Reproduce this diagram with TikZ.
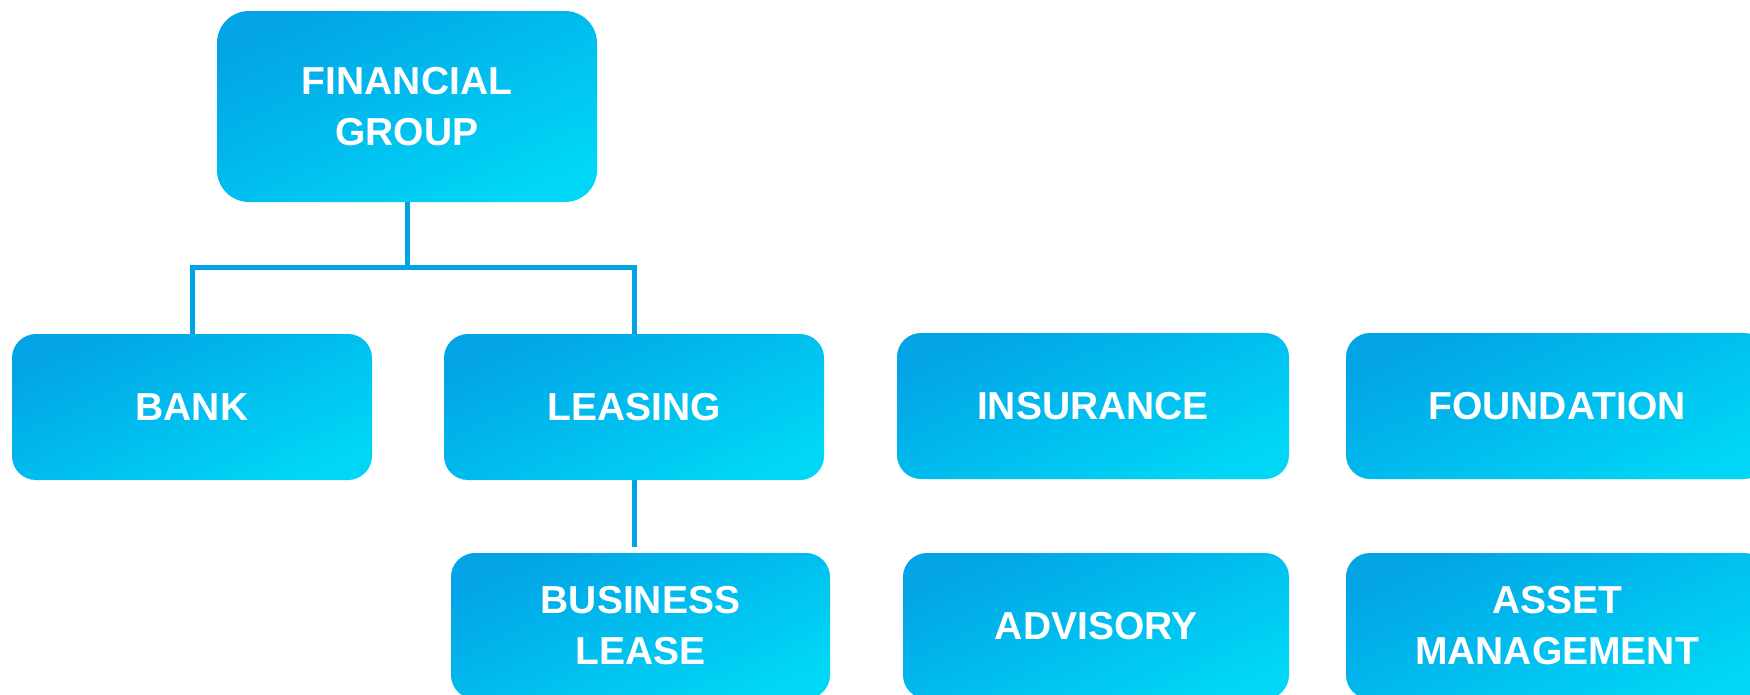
\documentclass[tikz,border=0pt]{standalone}
\usepackage{fontspec}
\setmainfont{Liberation Sans}

\definecolor{boxdark}{HTML}{02A4E6}
\definecolor{boxlight}{HTML}{00D6F6}
\definecolor{linkblue}{HTML}{00A3E3}

\begin{document}
\begin{tikzpicture}[x=1pt, y=-1pt,
    main/.style = {rounded corners=24pt, top color=boxdark, bottom color=boxlight, shading angle=25,
                   text=white, font=\fontsize{39}{51}\selectfont\bfseries, align=center,
                   inner sep=0pt, minimum height=146pt},
    link/.style = {draw=linkblue, line width=5pt}]
    \useasboundingbox (0,0) rectangle (1750,694);
    \clip (0,0) rectangle (1750,694);
    \node[main, minimum width=380pt, minimum height=191pt, rounded corners=32pt] (group) at (407,106.5) {FINANCIAL\\GROUP};
    \node[main, minimum width=360pt] (bank) at (192,407) {BANK};
    \node[main, minimum width=380pt] (leasing) at (634,407) {LEASING};
    \node[main, minimum width=392pt] (insurance) at (1093,406) {INSURANCE};
    \node[main, minimum width=422pt] (foundation) at (1557,406) {FOUNDATION};
    \node[main, minimum width=379pt] (business) at (640.5,626) {BUSINESS\\LEASE};
    \node[main, minimum width=386pt] (advisory) at (1096,626) {ADVISORY};
    \node[main, minimum width=422pt] (asset) at (1557,626) {ASSET\\MANAGEMENT};
    \coordinate (split) at (407,267);
    \coordinate (leaseend) at (634,547);
    \draw[link] (group) -- (split);
    \draw[link] (bank.north) |- (split) -| (leasing.north);
    \draw[link] (leasing) -- (leaseend);
\end{tikzpicture}
\end{document}
